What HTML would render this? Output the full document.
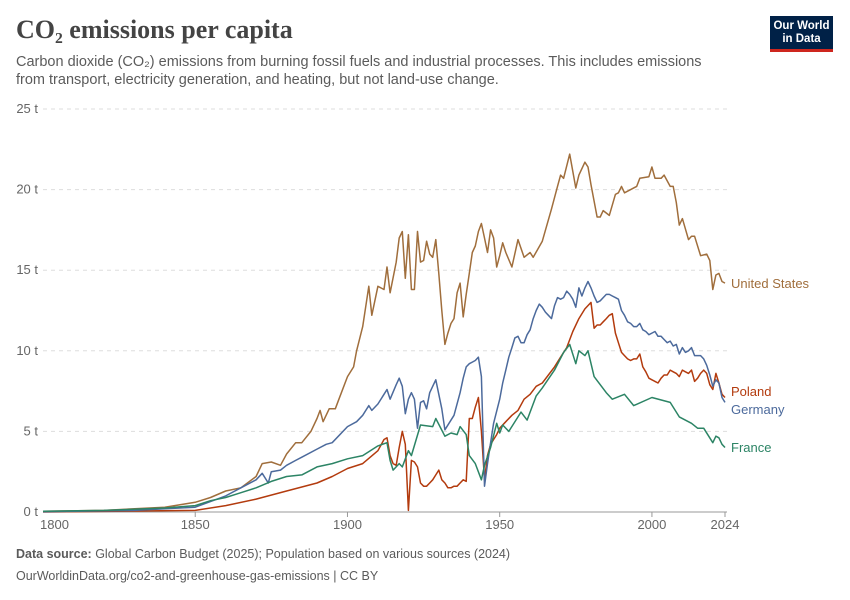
<!DOCTYPE html>
<html><head><meta charset="utf-8"><style>
body{margin:0;background:#fff;font-family:"Liberation Sans",sans-serif;}
#wrap{position:relative;width:850px;height:600px;overflow:hidden;}
.t{position:absolute;white-space:nowrap;}
</style></head><body>
<div id="wrap">
<div class="t" style="left:16px;top:15px;font-family:'Liberation Serif',serif;font-size:26px;font-weight:bold;color:#444;">CO₂ emissions per capita</div>
<div class="t" style="left:16px;top:53px;font-size:14.5px;line-height:18px;color:#5b5b5b;">Carbon dioxide (CO₂) emissions from burning fossil fuels and industrial processes. This includes emissions<br>from transport, electricity generation, and heating, but not land-use change.</div>
<div style="position:absolute;left:770px;top:16px;width:63px;height:36px;background:#002147;border-bottom:3px solid #ce261e;box-sizing:border-box;color:#fff;font-size:11.5px;line-height:13px;text-align:center;padding-top:4px;font-weight:bold;">Our World<br>in Data</div>
<svg id="chart" width="850" height="600" style="position:absolute;left:0;top:0;"></svg>
<div class="t" style="left:16px;top:547px;font-size:12.5px;color:#5b5b5b;"><b>Data source:</b> Global Carbon Budget (2025); Population based on various sources (2024)</div>
<div class="t" style="left:16px;top:569px;font-size:12.5px;color:#5b5b5b;">OurWorldinData.org/co2-and-greenhouse-gas-emissions | CC BY</div>
</div>
<script>
const yTicks=[0,5,10,15,20,25];
const xTicks=[1800,1850,1900,1950,2000,2024];
const usYears=[1800,1820,1840,1850,1855,1860,1865,1870,1872,1875,1878,1880,1883,1885,1888,1890,1891,1892,1894,1896,1897,1900,1902,1903,1905,1907,1908,1910,1912,1913,1914,1916,1917,1918,1919,1920,1921,1922,1923,1924,1925,1926,1927,1928,1929,1930,1931,1932,1933,1934,1935,1936,1937,1938,1939,1940,1941,1942,1943,1944,1945,1946,1947,1948,1949,1950,1951,1952,1954,1956,1958,1960,1961,1964,1967,1969,1970,1971,1973,1975,1976,1978,1979,1980,1982,1983,1984,1986,1988,1989,1990,1991,1995,1996,1999,2000,2001,2003,2004,2006,2007,2008,2009,2010,2012,2013,2014,2016,2018,2019,2020,2021,2022,2023,2024];
const usValues=[0.05,0.1,0.3,0.6,0.9,1.3,1.5,2.2,3.0,3.1,2.9,3.6,4.3,4.3,5.0,5.8,6.3,5.6,6.4,6.4,6.9,8.4,9.0,10.0,11.5,14.0,12.2,14.0,13.8,15.2,13.6,15.5,17.0,17.4,14.5,17.2,13.8,13.8,17.4,15.5,15.6,16.8,16.0,15.8,16.9,14.8,12.5,10.4,11.1,11.7,12.0,13.6,14.2,12.1,13.5,14.8,16.1,16.5,17.4,17.9,17.0,16.1,17.5,17.0,15.2,15.9,16.7,16.1,15.2,16.9,15.8,16.1,15.8,16.8,18.8,20.2,20.9,20.7,22.2,20.1,20.9,21.7,21.4,20.3,18.3,18.3,18.7,18.4,19.7,19.8,20.2,19.8,20.2,20.7,20.8,21.4,20.7,20.7,20.9,20.2,20.2,19.2,17.8,18.2,16.9,17.1,17.1,15.9,16.0,15.6,13.8,14.7,14.8,14.3,14.2];
const deYears=[1800,1830,1850,1860,1865,1870,1872,1874,1875,1878,1880,1883,1885,1890,1893,1895,1900,1903,1905,1907,1908,1910,1912,1913,1914,1916,1917,1918,1919,1920,1921,1922,1923,1924,1925,1926,1927,1928,1929,1930,1931,1932,1935,1937,1938,1939,1940,1941,1942,1943,1944,1945,1946,1947,1948,1950,1951,1952,1953,1954,1955,1956,1957,1958,1959,1960,1961,1962,1963,1964,1965,1966,1967,1968,1969,1970,1971,1972,1973,1974,1975,1976,1977,1978,1979,1980,1981,1982,1983,1984,1985,1986,1987,1988,1989,1990,1991,1992,1993,1994,1995,1996,1997,1998,1999,2000,2001,2002,2003,2004,2005,2006,2007,2008,2009,2010,2011,2012,2013,2014,2015,2016,2017,2018,2019,2020,2021,2022,2023,2024];
const deValues=[0.02,0.1,0.3,1.0,1.5,2.0,2.4,1.8,2.5,2.6,2.9,3.2,3.4,3.9,4.2,4.3,5.3,5.6,6.0,6.6,6.3,6.7,7.3,7.6,7.0,7.9,8.3,7.8,6.1,7.0,7.4,7.0,5.2,6.8,6.9,6.4,7.4,7.8,8.2,7.3,6.4,5.1,6.0,7.4,8.3,9.0,9.2,9.3,9.4,9.6,8.4,1.6,3.0,4.3,5.5,7.0,8.0,8.8,9.6,10.2,10.8,10.9,10.5,10.5,11.0,11.3,12.0,12.5,12.9,12.7,12.4,12.2,12.0,12.8,13.3,13.2,13.3,13.7,13.5,13.2,12.7,13.9,13.4,13.9,14.3,13.9,13.4,13.0,13.1,13.3,13.5,13.5,13.4,13.3,13.2,12.5,12.2,11.8,11.7,11.5,11.5,11.7,11.3,11.2,11.0,11.1,11.2,10.9,10.9,10.7,10.5,10.6,10.3,10.4,9.8,10.2,9.9,10.0,10.2,9.7,9.7,9.7,9.5,9.1,8.5,7.8,8.2,8.0,7.1,6.8];
const plYears=[1800,1850,1860,1870,1880,1890,1895,1900,1905,1910,1912,1913,1914,1915,1916,1917,1918,1919,1920,1921,1922,1923,1924,1925,1926,1927,1928,1929,1930,1931,1932,1933,1934,1935,1936,1937,1938,1939,1940,1941,1942,1943,1944,1945,1946,1947,1948,1949,1950,1952,1954,1956,1958,1960,1962,1964,1966,1968,1970,1972,1974,1976,1978,1980,1981,1982,1983,1984,1985,1986,1987,1988,1989,1990,1991,1992,1993,1994,1995,1996,1997,1998,1999,2000,2001,2002,2003,2004,2005,2006,2007,2008,2009,2010,2011,2012,2013,2014,2015,2016,2017,2018,2019,2020,2021,2022,2023,2024];
const plValues=[0,0.1,0.4,0.8,1.3,1.8,2.2,2.7,3.0,3.8,4.5,4.6,3.5,3.0,2.9,4.0,5.0,4.2,0.1,3.2,3.1,2.8,1.8,1.6,1.6,1.8,2.0,2.3,2.6,2.0,1.8,1.5,1.5,1.6,1.6,1.8,2.0,1.9,5.8,5.8,6.5,7.1,5.0,2.0,3.5,4.2,4.5,4.8,5.2,5.6,6.0,6.3,7.0,7.3,7.8,8.0,8.5,9.0,9.6,10.2,11.2,12.0,12.6,13.0,11.4,11.6,11.6,11.8,12.0,12.2,12.3,11.1,10.5,9.9,9.7,9.5,9.4,9.5,9.5,9.8,9.0,8.7,8.3,8.2,8.1,8.0,8.3,8.5,8.5,8.8,8.7,8.6,8.4,8.8,8.7,8.6,8.8,8.1,8.3,8.6,8.8,8.6,7.9,7.6,8.6,8.0,7.3,7.1];
const frYears=[1800,1820,1840,1850,1855,1860,1865,1870,1875,1880,1885,1890,1895,1900,1905,1910,1913,1914,1915,1917,1918,1920,1921,1924,1928,1929,1932,1934,1936,1937,1939,1940,1942,1944,1945,1947,1949,1950,1951,1953,1957,1959,1962,1964,1968,1971,1973,1975,1976,1978,1979,1981,1985,1987,1991,1994,2000,2006,2009,2013,2015,2017,2020,2021,2022,2023,2024];
const frValues=[0.05,0.1,0.25,0.4,0.7,0.9,1.2,1.5,1.9,2.2,2.3,2.8,3.0,3.3,3.5,4.1,4.3,3.2,2.6,3.0,2.8,3.8,3.5,5.4,5.3,5.8,4.7,4.9,4.8,5.3,4.8,3.5,3.0,2.0,2.9,4.0,5.5,4.9,5.4,5.0,6.2,5.7,7.2,7.7,8.8,9.9,10.4,9.2,10.0,9.7,10.0,8.4,7.4,7.0,7.3,6.6,7.1,6.8,5.9,5.5,5.2,5.2,4.3,4.7,4.6,4.2,4.0];
const seriesNames=["United States","Poland","Germany","France"];

const NS="http://www.w3.org/2000/svg";
const svg=document.getElementById('chart');
const X0=43,X1=725,Y0=512,Y1=109;
const xs=y=>X0+(y-1800)/(2024-1800)*(X1-X0);
const ys=v=>Y0-v/25*(Y0-Y1);
function mk(tag,attrs){const e=document.createElementNS(NS,tag);for(const k in attrs)e.setAttribute(k,attrs[k]);svg.appendChild(e);return e;}
yTicks.forEach(t=>{
  if(t>0){const g=mk('line',{x1:X0,x2:727,y1:ys(t),y2:ys(t),stroke:'#dddddd','stroke-dasharray':'4,4'});
  
  }
  const l=mk('text',{x:38,y:ys(t)+4,'text-anchor':'end','font-size':'13','fill':'#666','font-family':'Liberation Sans,sans-serif'});
  l.textContent=t+' t';
  
  
});
const ax=mk('line',{x1:X0,x2:727,y1:Y0,y2:Y0,stroke:'#999'});


xTicks.forEach(t=>{
  if(t>1800){const tk=mk('line',{x1:xs(t),x2:xs(t),y1:Y0,y2:Y0+5,stroke:'#999'});
  
  }
  const l=mk('text',{x:t===1800?40:xs(t),y:529,'text-anchor':t===1800?'start':'middle','font-size':'13','fill':'#666','font-family':'Liberation Sans,sans-serif'});
  l.textContent=t;
  
  
});
const series=[[usYears,usValues,'#a06e3c',284],[plYears,plValues,'#b33b0e',392],[deYears,deValues,'#4c6a9c',410],[frYears,frValues,'#2c8465',448]];
series.forEach((s,i)=>{
  const pts=s[0].map((y,j)=>xs(y).toFixed(1)+','+ys(s[1][j]).toFixed(1)).join(' ');
  const p=mk('polyline',{points:pts,fill:'none',stroke:s[2],'stroke-width':'1.5','stroke-linejoin':'round'});
  
  
  const l=mk('text',{x:731,y:s[3]+4,'font-size':'13','fill':s[2],'font-family':'Liberation Sans,sans-serif'});
  l.textContent=seriesNames[i];
  
  
});
</script>
</body></html>
